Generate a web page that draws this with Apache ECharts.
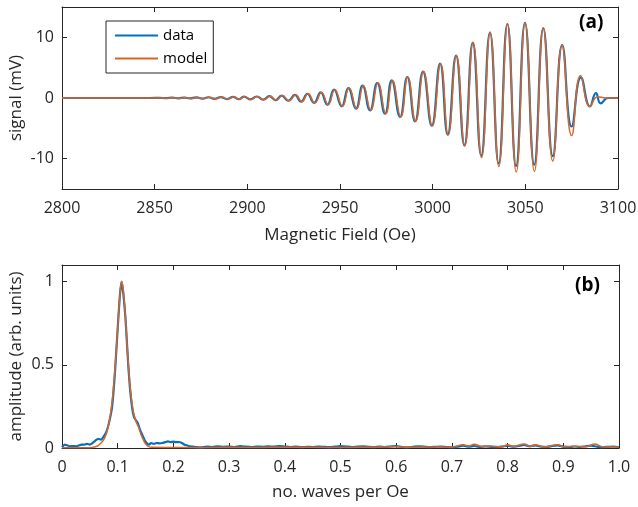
<!DOCTYPE html>
<html><head><meta charset="utf-8">
<script src="https://cdn.jsdelivr.net/npm/echarts@6/dist/echarts.min.js"></script>
<style>html,body{margin:0;padding:0;background:#fff}#c{width:638px;height:507px}</style>
</head><body><div id="c"></div>
<script>
// ---- panel (a): signal vs magnetic field (extrema) ----
const fieldData = [2800,2847.5,2852.9,2856.1,2859.6,2862.9,2866.0,2869.2,2872.5,2875.8,2879.0,2882.3,2885.7,2889.0,2892.4,2895.3,2898.2,2901.6,2905.1,2908.5,2911.9,2915.2,2918.5,2922.1,2925.7,2929.0,2932.4,2936.0,2939.6,2943.2,2946.8,2950.9,2954.5,2958.6,2962.2,2966.2,2970.1,2974.3,2977.9,2982.4,2986.3,2990.5,2994.8,2999.5,3004.0,3008.1,3012.6,3017.1,3021.6,3026.2,3030.9,3035.6,3040.3,3045.0,3049.8,3054.8,3059.7,3064.8,3069.9,3075.0,3080.0,3084.9,3088.1,3090.7,3094.5,3100];
const signalData = [0,0,0.03,-0.03,0.05,-0.05,0.07,-0.07,0.1,-0.1,0.12,-0.13,0.15,-0.17,0.2,-0.2,0.22,-0.23,0.25,-0.28,0.3,-0.35,0.4,-0.45,0.5,-0.6,0.7,-0.8,0.92,-1.1,1.37,-1.38,1.64,-1.76,2.03,-2.04,2.47,-2.59,2.9,-3.13,3.46,-3.85,4.35,-4.56,5.65,-6.05,7.0,-7.8,9.1,-9.5,10.8,-10.8,12.2,-11.2,12.4,-11.0,11.5,-9.6,8.7,-4.7,3.4,-1.4,0.8,-0.9,0,0];
const fieldModel = [2800,2847.9,2853.3,2856.5,2860.0,2863.3,2866.4,2869.6,2872.9,2876.2,2879.4,2882.7,2886.1,2889.4,2892.8,2895.7,2898.6,2902.0,2905.5,2908.9,2912.3,2915.6,2918.9,2922.5,2926.1,2929.4,2932.8,2936.4,2940.0,2943.6,2947.2,2951.3,2954.9,2959.0,2962.6,2966.6,2970.5,2974.7,2978.3,2982.8,2986.6,2990.8,2995.1,2999.8,3004.3,3008.4,3012.8,3017.3,3021.8,3026.4,3031.0,3035.7,3040.4,3045.1,3049.9,3054.9,3059.7,3064.8,3069.8,3075.0,3079.8,3084.9,3089.0,3093.5,3100];
const signalModel = [0,0,0.03,-0.03,0.05,-0.05,0.07,-0.07,0.1,-0.1,0.12,-0.13,0.15,-0.17,0.2,-0.2,0.22,-0.23,0.25,-0.28,0.3,-0.35,0.4,-0.45,0.5,-0.6,0.7,-0.8,0.92,-1.1,1.37,-1.38,1.64,-1.76,2.03,-2.04,2.47,-2.59,2.9,-3.13,3.46,-3.85,4.35,-4.6,5.65,-6.1,7.0,-7.9,9.2,-9.8,10.8,-11.3,12.2,-12.2,12.4,-12.1,11.6,-10.4,8.7,-6.2,3.7,-1.4,0.2,0,0];
const fieldTicks = [2800,2850,2900,2950,3000,3050,3100];
const signalTicks = [-10,0,10];

// ---- panel (b): amplitude vs waves per Oe ----
const freqData = [0,0.005,0.01,0.015,0.02,0.025,0.03,0.035,0.04,0.045,0.05,0.055,0.06,0.065,0.07,0.075,0.08,0.085,0.09,0.095,0.1,0.104,0.107,0.11,0.114,0.118,0.122,0.126,0.129,0.132,0.136,0.14,0.144,0.148,0.152,0.156,0.16,0.165,0.17,0.175,0.18,0.185,0.19,0.195,0.2,0.205,0.21,0.215,0.22,0.225,0.23,0.24,0.25,0.26,0.27,0.28,0.29,0.30,0.31,0.32,0.33,0.34,0.35,0.36,0.37,0.38,0.39,0.40,0.41,0.42,0.43,0.44,0.45,0.46,0.47,0.48,0.49,0.50,0.51,0.52,0.53,0.54,0.55,0.56,0.57,0.58,0.59,0.60,0.61,0.62,0.63,0.64,0.65,0.66,0.67,0.68,0.69,0.70,0.71,0.72,0.73,0.74,0.75,0.76,0.77,0.78,0.79,0.80,0.81,0.82,0.83,0.84,0.85,0.86,0.87,0.88,0.89,0.90,0.91,0.92,0.93,0.94,0.95,0.96,0.97,0.98,0.99,1.0];
const ampData = [0.005,0.02,0.015,0.01,0.012,0.01,0.015,0.02,0.02,0.025,0.02,0.03,0.045,0.055,0.05,0.07,0.1,0.16,0.25,0.45,0.72,0.92,1.0,0.93,0.78,0.55,0.36,0.24,0.19,0.17,0.15,0.11,0.08,0.05,0.03,0.02,0.03,0.025,0.03,0.028,0.03,0.035,0.04,0.035,0.038,0.035,0.036,0.03,0.02,0.015,0.01,0.006,0.004,0.008,0.006,0.01,0.007,0.009,0.006,0.011,0.008,0.006,0.009,0.007,0.01,0.008,0.012,0.009,0.006,0.008,0.005,0.007,0.006,0.009,0.007,0.005,0.008,0.011,0.009,0.006,0.008,0.01,0.007,0.005,0.008,0.006,0.009,0.012,0.006,0.004,0.007,0.01,0.008,0.005,0.007,0.009,0.006,0.004,0.008,0.014,0.008,0.012,0.006,0.01,0.007,0.005,0.009,0.014,0.008,0.013,0.018,0.01,0.015,0.008,0.006,0.012,0.016,0.008,0.005,0.009,0.006,0.01,0.014,0.008,0.005,0.007,0.009,0.006];
const freqModel = [0,0.05,0.06,0.065,0.07,0.075,0.08,0.085,0.09,0.095,0.1,0.104,0.107,0.11,0.114,0.118,0.122,0.126,0.13,0.134,0.138,0.142,0.146,0.15,0.155,0.16,0.2,0.25,0.3,0.35,0.4,0.45,0.5,0.55,0.6,0.62,0.65,0.7,0.72,0.73,0.74,0.755,0.77,0.79,0.80,0.81,0.83,0.84,0.85,0.865,0.89,0.9,0.92,0.94,0.957,0.97,1.0];
const ampModel = [0.002,0.002,0.008,0.015,0.03,0.05,0.09,0.16,0.28,0.47,0.72,0.92,1.0,0.95,0.78,0.56,0.38,0.26,0.19,0.15,0.12,0.08,0.05,0.025,0.01,0.004,0.003,0.002,0.004,0.003,0.005,0.004,0.003,0.005,0.008,0.004,0.006,0.005,0.02,0.012,0.022,0.008,0.012,0.006,0.02,0.01,0.024,0.01,0.02,0.006,0.02,0.008,0.01,0.008,0.024,0.008,0.006];
const freqTicks = [0,0.1,0.2,0.3,0.4,0.5,0.6,0.7,0.8,0.9,1.0];
const ampTicks = [0,0.5,1];

const zip = (a, b) => a.map((v, i) => [v, b[i]]);
const FONT = "'Open Sans','Noto Sans',sans-serif";
const AX = '#262626';
const BLUE = '#0072BD', ORANGE = '#DD6225';
const TICK = 16, TITLE = 17;

function axisBase(extra) {
  return Object.assign({
    type: 'value',
    nameMoveOverlap: false,
    axisLine: { show: true, onZero: false, lineStyle: { color: AX, width: 1 } },
    axisTick: { show: true, inside: true, length: 5, lineStyle: { color: AX } },
    splitLine: { show: false },
    axisLabel: { color: AX, fontFamily: FONT, fontSize: TICK },
    nameTextStyle: { color: AX, fontFamily: FONT, fontSize: TITLE }
  }, extra);
}
function mirror(base, pos) {
  const m = Object.assign({}, base);
  m.position = pos; m.name = '';
  m.axisLabel = Object.assign({}, base.axisLabel, { show: false });
  return m;
}

const xA = axisBase({ gridIndex: 0, min: 2800, max: 3100, position: 'bottom',
  name: 'Magnetic Field (Oe)', nameLocation: 'middle', nameGap: 38,
  axisTick: { show: true, inside: true, length: 5, lineStyle: { color: AX }, customValues: fieldTicks },
  axisLabel: { color: AX, fontFamily: FONT, fontSize: TICK, margin: 11, customValues: fieldTicks,
    formatter: v => String(v) } });
const yA = axisBase({ gridIndex: 0, min: -15, max: 15, position: 'left',
  name: 'signal (mV)', nameLocation: 'middle', nameGap: 37,
  axisTick: { show: true, inside: true, length: 5, lineStyle: { color: AX }, customValues: signalTicks },
  axisLabel: { color: AX, fontFamily: FONT, fontSize: TICK, margin: 8, customValues: signalTicks,
    formatter: v => String(v) } });
const xB = axisBase({ gridIndex: 1, min: 0, max: 1, position: 'bottom',
  name: 'no. waves per Oe', nameLocation: 'middle', nameGap: 36,
  axisTick: { show: true, inside: true, length: 5, lineStyle: { color: AX }, customValues: freqTicks },
  axisLabel: { color: AX, fontFamily: FONT, fontSize: TICK, margin: 11, customValues: freqTicks,
    formatter: v => v === 0 ? '0' : v.toFixed(1) } });
const yB = axisBase({ gridIndex: 1, min: 0, max: 1.1, position: 'left',
  name: 'amplitude (arb. units)', nameLocation: 'middle', nameGap: 37,
  axisTick: { show: true, inside: true, length: 5, lineStyle: { color: AX }, customValues: ampTicks },
  axisLabel: { color: AX, fontFamily: FONT, fontSize: TICK, margin: 8, customValues: ampTicks,
    formatter: v => String(v) } });

const chart = echarts.init(document.getElementById('c'), null, { renderer: 'canvas' });
chart.setOption({
  animation: false,
  backgroundColor: '#fff',
  grid: [
    { left: 62, top: 7, width: 556, height: 182, containLabel: false, outerBoundsMode: 'none' },
    { left: 62, top: 265, width: 557, height: 183, containLabel: false, outerBoundsMode: 'none' }
  ],
  xAxis: [xA, mirror(xA, 'top'), xB, mirror(xB, 'top')],
  yAxis: [yA, mirror(yA, 'right'), yB, mirror(yB, 'right')],
  legend: {
    data: [{ name: 'data', icon: 'rect' }, { name: 'model', icon: 'rect' }],
    orient: 'vertical', left: 106, top: 21,
    backgroundColor: '#fff', borderColor: AX, borderWidth: 1, borderRadius: 0,
    padding: [7, 6, 7, 9], itemWidth: 43, itemHeight: 2, itemGap: 8,
    textStyle: { color: '#000', fontFamily: FONT, fontSize: 15, lineHeight: 15 }
  },
  graphic: [
    { type: 'text', left: 579, top: 13, style: { text: '(a)', fontFamily: FONT, fontWeight: 'bold', fontSize: 19, fill: '#000' } },
    { type: 'text', left: 575, top: 276, style: { text: '(b)', fontFamily: FONT, fontWeight: 'bold', fontSize: 19, fill: '#000' } }
  ],
  series: [
    { name: 'data', type: 'line', xAxisIndex: 0, yAxisIndex: 0, data: zip(fieldData, signalData),
      showSymbol: false, symbol: 'none', smooth: 0.5, lineStyle: { color: BLUE, width: 2.2 }, itemStyle: { color: BLUE } },
    { name: 'model', type: 'line', xAxisIndex: 0, yAxisIndex: 0, data: zip(fieldModel, signalModel),
      showSymbol: false, symbol: 'none', smooth: 0.5, lineStyle: { color: ORANGE, width: 1.5 }, itemStyle: { color: ORANGE } },
    { name: 'data', type: 'line', xAxisIndex: 2, yAxisIndex: 2, data: zip(freqData, ampData),
      showSymbol: false, symbol: 'none', smooth: 0.2, lineStyle: { color: BLUE, width: 2.2 }, itemStyle: { color: BLUE } },
    { name: 'model', type: 'line', xAxisIndex: 2, yAxisIndex: 2, data: zip(freqModel, ampModel),
      showSymbol: false, symbol: 'none', smooth: 0.4, lineStyle: { color: ORANGE, width: 1.5 }, itemStyle: { color: ORANGE } }
  ]
});
</script></body></html>
